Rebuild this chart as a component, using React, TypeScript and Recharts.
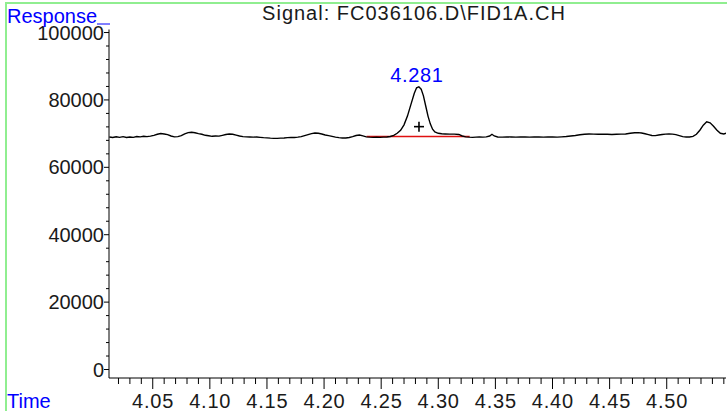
import { LineChart, Line, XAxis, YAxis, ReferenceLine, ReferenceDot } from "recharts";

const times = [
  4.012, 4.015, 4.018, 4.021, 4.024, 4.027, 4.03, 4.033, 4.036, 4.039, 4.042, 4.045, 4.048,
  4.051, 4.054, 4.057, 4.06, 4.063, 4.066, 4.069, 4.072, 4.075, 4.078, 4.081, 4.084, 4.087,
  4.09, 4.093, 4.096, 4.099, 4.102, 4.105, 4.108, 4.111, 4.114, 4.117, 4.12, 4.123, 4.126,
  4.129, 4.132, 4.135, 4.138, 4.141, 4.144, 4.147, 4.15, 4.153, 4.156, 4.159, 4.162, 4.165,
  4.168, 4.171, 4.174, 4.177, 4.18, 4.183, 4.186, 4.189, 4.192, 4.195, 4.198, 4.201, 4.204,
  4.207, 4.21, 4.213, 4.216, 4.219, 4.222, 4.225, 4.228, 4.231, 4.234, 4.237, 4.24, 4.243,
  4.246, 4.249, 4.252, 4.255, 4.258, 4.261, 4.264, 4.267, 4.27, 4.273, 4.276, 4.279, 4.281,
  4.283, 4.285, 4.287, 4.289, 4.291, 4.293, 4.295, 4.297, 4.3, 4.303, 4.306, 4.31, 4.314,
  4.318, 4.321, 4.324, 4.327, 4.33, 4.333, 4.336, 4.339, 4.342, 4.345, 4.347, 4.349, 4.352,
  4.356, 4.36, 4.364, 4.368, 4.372, 4.376, 4.38, 4.384, 4.388, 4.392, 4.396, 4.4, 4.404,
  4.408, 4.412, 4.416, 4.42, 4.424, 4.428, 4.432, 4.436, 4.44, 4.444, 4.448, 4.452, 4.456,
  4.46, 4.464, 4.468, 4.472, 4.475, 4.478, 4.481, 4.484, 4.487, 4.49, 4.493, 4.496, 4.499,
  4.502, 4.505, 4.508, 4.511, 4.514, 4.517, 4.52, 4.523, 4.526, 4.529, 4.532, 4.535, 4.538,
  4.541, 4.544, 4.547, 4.55, 4.552,
];

const response = [
  69000, 68850, 69050, 68900, 69100, 68850, 69000, 68900, 69150, 69050, 69200, 69100, 69250,
  69500, 69800, 70050, 69900, 69700, 69300, 69050, 69100, 69400, 69900, 70300, 70400, 70250,
  70000, 69800, 69500, 69350, 69200, 69300, 69250, 69500, 69750, 69900, 69800, 69550, 69300,
  69100, 69050, 69000, 68950, 69000, 68900, 68800, 68750, 68650, 68600, 68600, 68650, 68700,
  68800, 68900, 68850, 68950, 69100, 69400, 69700, 70000, 70200, 70100, 69900, 69600, 69400,
  69200, 68950, 68800, 68700, 68700, 68850, 69100, 69450, 69600, 69350, 69050, 68950, 68900,
  68950, 68900, 68950, 69000, 69150, 69500, 70100, 71000, 72600, 75200, 78600, 82000, 83600,
  83900, 83200, 81200, 78200, 75200, 72900, 71300, 70500, 70100, 69950, 69900, 69850, 69850,
  69750, 69300, 69050, 68950, 68900, 68950, 69000, 68950, 69050, 69300, 69800, 69300, 69000,
  68950, 69050, 69000, 68950, 69050, 69000, 68950, 69050, 69000, 68950, 69000, 69050, 68950,
  69050, 69150, 69300, 69450, 69650, 69800, 69900, 69850, 69800, 69850, 69800, 69750, 69800,
  69850, 69900, 70100, 70250, 70300, 70200, 69950, 69700, 69450, 69400, 69600, 69750, 69850,
  69900, 69850, 69700, 69400, 69100, 69000, 69000, 69200, 69800, 71000, 72500, 73500, 73200,
  72200, 71000, 70100, 69900, 70100,
];

const xTicks = [
  4.02, 4.03, 4.04, 4.05, 4.06, 4.07, 4.08, 4.09, 4.1, 4.11, 4.12, 4.13, 4.14, 4.15, 4.16,
  4.17, 4.18, 4.19, 4.2, 4.21, 4.22, 4.23, 4.24, 4.25, 4.26, 4.27, 4.28, 4.29, 4.3, 4.31,
  4.32, 4.33, 4.34, 4.35, 4.36, 4.37, 4.38, 4.39, 4.4, 4.41, 4.42, 4.43, 4.44, 4.45, 4.46,
  4.47, 4.48, 4.49, 4.5, 4.51, 4.52, 4.53, 4.54, 4.55,
];
const xLabels = ["4.05", "4.10", "4.15", "4.20", "4.25", "4.30", "4.35", "4.40", "4.45", "4.50"];

const yTicks = [
  0, 4000, 8000, 12000, 16000, 20000, 24000, 28000, 32000, 36000, 40000, 44000, 48000, 52000,
  56000, 60000, 64000, 68000, 72000, 76000, 80000, 84000, 88000, 92000, 96000, 100000,
];
const yLabelEvery = 20000;

const peakRt = 4.281;
const peakTop = 83900;
const peakLabel = "4.281";
const marker = { x: 4.2831, y: 72070 };
const baseline = [
  { x: 4.2372, y: 69160 },
  { x: 4.3275, y: 69160 },
];

const data = times.map((t, i) => ({ t, v: response[i] }));

const FONT = '"Liberation Sans", Arial, sans-serif';
const BLUE = "#0000ff";
const INK = "#1a1a1a";

function XTick(props: any) {
  const { x, y, payload } = props;
  const label = xLabels.find((l) => Math.abs(Number(l) - payload.value) < 1e-6);
  return (
    <g>
      <line x1={x} x2={x} y1={y} y2={y + (label ? 11 : 6)} stroke="#000" strokeWidth={1} />
      {label && (
        <text
          x={x + 0.4}
          y={y + 30}
          textAnchor="middle"
          fontFamily={FONT}
          fontSize={20}
          letterSpacing={0.8}
          fill={INK}
        >
          {label}
        </text>
      )}
    </g>
  );
}

function YTick(props: any) {
  const { x, y, payload } = props;
  const major = payload.value % yLabelEvery === 0;
  return (
    <g>
      <line x1={x - (major ? 5 : 3)} x2={x} y1={y} y2={y} stroke="#000" strokeWidth={1} />
      {major && (
        <text x={x - 5} y={y + 7} textAnchor="end" fontFamily={FONT} fontSize={20} fill={INK}>
          {payload.value}
        </text>
      )}
    </g>
  );
}

export default function App() {
  return (
    <div style={{ position: "absolute", left: 0, top: 0, width: 727, height: 411, background: "#fff" }}>
      <style>{`body{margin:0}`}</style>
      <LineChart
        width={727}
        height={411}
        data={data}
        margin={{ top: 29.5, right: 1, bottom: 3, left: 49 }}
      >
        <XAxis
          dataKey="t"
          type="number"
          domain={[4.0117, 4.5519]}
          ticks={xTicks}
          interval={0}
          allowDataOverflow
          height={30}
          tickSize={0}
          tickMargin={0}
          tickLine={false}
          axisLine={{ stroke: "#000", strokeWidth: 1 }}
          tick={<XTick />}
        />
        <YAxis
          type="number"
          domain={[-2520, 100900]}
          ticks={yTicks}
          interval={0}
          allowDataOverflow
          width={60}
          tickSize={0}
          tickMargin={0}
          tickLine={false}
          axisLine={{ stroke: "#000", strokeWidth: 1 }}
          tick={<YTick />}
        />
        <ReferenceLine segment={baseline} stroke="#e01010" strokeWidth={1.5} />
        <Line
          type="linear"
          dataKey="v"
          stroke="#000"
          strokeWidth={1.4}
          dot={false}
          isAnimationActive={false}
        />
        <ReferenceDot
          x={marker.x}
          y={marker.y}
          shape={(p: any) => (
            <g stroke="#000" strokeWidth={1.6}>
              <line x1={p.cx - 5} x2={p.cx + 5} y1={p.cy} y2={p.cy} />
              <line x1={p.cx} x2={p.cx} y1={p.cy - 5} y2={p.cy + 5} />
            </g>
          )}
        />
        <ReferenceDot
          x={peakRt}
          y={peakTop}
          shape={(p: any) => (
            <text
              x={p.cx + 0.3}
              y={p.cy - 5}
              textAnchor="middle"
              fontFamily={FONT}
              fontSize={20}
              letterSpacing={0.6}
              fill={BLUE}
            >
              {peakLabel}
            </text>
          )}
        />
      </LineChart>
      <svg
        width={727}
        height={411}
        style={{ position: "absolute", left: 0, top: 0, pointerEvents: "none" }}
      >
        <rect x={6} y={2} width={721} height={2} fill="#90ee90" />
        <rect x={5} y={2} width={2} height={409} fill="#90ee90" />
        <text x={7} y={22.7} fontFamily={FONT} fontSize={20} fill={BLUE}>
          Response
        </text>
        <line x1={97} x2={110} y1={24} y2={24} stroke={BLUE} strokeWidth={1} />
        <text
          x={414}
          y={19.5}
          textAnchor="middle"
          fontFamily={FONT}
          fontSize={20}
          letterSpacing={1}
          fill={INK}
        >
          Signal: FC036106.D\FID1A.CH
        </text>
        <text x={7} y={408.3} fontFamily={FONT} fontSize={20} fill={BLUE}>
          Time
        </text>
      </svg>
    </div>
  );
}
